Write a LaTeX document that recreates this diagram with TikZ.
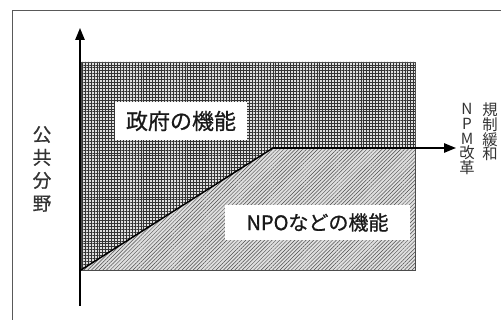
\documentclass[tikz,border=0pt]{standalone}
\usepackage{fontspec}
\setmainfont{Noto Sans CJK JP}
\newfontfamily\medfont{Noto Sans CJK JP}[AutoFakeBold=0.8]
\usetikzlibrary{patterns.meta,arrows.meta}
\tikzset{
  frameline/.style={line width=0.6pt,draw=black!65},
  axisline/.style={line width=1.3pt,-{Triangle[length=9pt,width=7pt]}},
  labelbox/.style={fill=white,inner sep=0pt,text=black!90},
  vtext/.style={align=center,inner sep=0pt,text=black!80},
}
\begin{document}
\begin{tikzpicture}[x=0.75pt,y=-0.75pt]
\useasboundingbox (0,0) rectangle (501,320);
% outer frame
\draw[frameline] (12,324) -- (12,10) -- (505,10);
% key points
\coordinate (o) at (81,270);
\coordinate (tl) at (81,62);
\coordinate (tr) at (415,62);
\coordinate (br) at (415,270);
\coordinate (k) at (273,148);
\coordinate (kr) at (415,148);
% government region (grid)
\fill[gray!25] (o) -- (tl) -- (tr) -- (kr) -- (k) -- cycle;
\fill[pattern={Hatch[angle=0,distance=2.2pt,line width=0.35pt]},pattern color=black!80]
  (o) -- (tl) -- (tr) -- (kr) -- (k) -- cycle;
% NPO region (diagonal lines)
\fill[gray!25] (o) -- (k) -- (kr) -- (br) -- cycle;
\fill[pattern={Lines[angle=45,distance=2pt,line width=0.35pt]},pattern color=black!70]
  (o) -- (k) -- (kr) -- (br) -- cycle;
\draw[line width=0.5pt,black!70] (o) -- (tl) -- (tr) -- (br) -- cycle;
% boundary line
\draw[line width=1.1pt] (o) -- (k);
% axes
\coordinate (axb) at (80,306);
\coordinate (axt) at (80,28);
\coordinate (arrt) at (456,148);
\draw[axisline] (axb) -- (axt);
\draw[axisline] (k) -- (arrt);
% labels
\node[labelbox,minimum width=99pt,minimum height=28.5pt,font=\medfont\bfseries\fontsize{16.5}{18}\selectfont] (gov) at (181,121) {政府の機能};
\node[labelbox,minimum width=139pt,minimum height=26pt,font=\medfont\bfseries\fontsize{15}{17}\selectfont] (npo) at (317.5,222.5) {NPOなどの機能};
\node[vtext,font=\medfont\bfseries\fontsize{14}{17.25}\selectfont] (pub) at (42,169) {公\\共\\分\\野};
\node[vtext,font=\fontsize{11.5}{11}\selectfont] (kisei) at (490,132) {規\\制\\緩\\和};
\node[vtext,font=\fontsize{11.5}{11}\selectfont] (npm) at (467,139) {N\\P\\M\\改\\革};
\end{tikzpicture}
\end{document}
